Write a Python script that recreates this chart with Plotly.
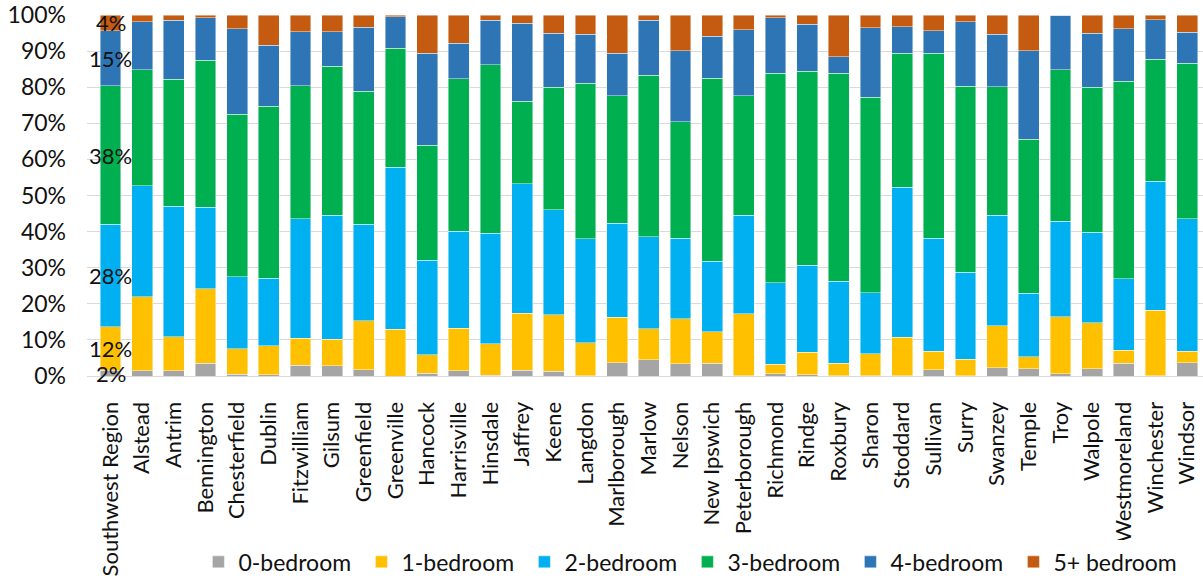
import plotly.graph_objects as go

categories = ["Southwest Region", "Alstead", "Antrim", "Bennington", "Chesterfield", "Dublin",
              "Fitzwilliam", "Gilsum", "Greenfield", "Greenville", "Hancock", "Harrisville",
              "Hinsdale", "Jaffrey", "Keene", "Langdon", "Marlborough", "Marlow", "Nelson",
              "New Ipswich", "Peterborough", "Richmond", "Rindge", "Roxbury", "Sharon",
              "Stoddard", "Sullivan", "Surry", "Swanzey", "Temple", "Troy", "Walpole",
              "Westmoreland", "Winchester", "Windsor"]

br0 = [1.6, 1.4, 1.4, 3.5, 0.5, 0.3, 3.0, 2.9, 1.7, 0.0, 0.7, 1.5, 0.2, 1.6, 1.3, 0.1, 3.7, 4.5,
       3.4, 3.6, 0.1, 0.6, 0.4, 0.1, 0.1, 0.1, 1.8, 0.1, 2.3, 2.0, 0.6, 2.0, 3.5, 0.1, 3.7]
br1 = [12.0, 20.5, 9.5, 20.7, 7.1, 8.1, 7.4, 7.3, 13.6, 12.9, 5.2, 11.7, 8.7, 15.8, 15.7, 9.1, 12.6, 8.6,
       12.5, 8.6, 17.1, 2.6, 6.2, 3.5, 6.0, 10.7, 5.0, 4.6, 11.6, 3.4, 15.8, 12.8, 3.7, 18.1, 3.2]
br2 = [28.4, 30.8, 36.1, 22.5, 19.9, 18.7, 33.1, 34.3, 26.7, 44.9, 26.1, 26.9, 30.6, 35.8, 29.1, 28.8, 26.0, 25.5,
       22.3, 19.6, 27.3, 22.7, 24.1, 22.6, 17.0, 41.5, 31.4, 24.0, 30.6, 17.5, 26.4, 25.0, 19.8, 35.7, 36.7]
br3 = [38.4, 32.1, 35.2, 40.8, 45.0, 47.6, 36.9, 41.3, 36.9, 33.0, 31.9, 42.3, 46.7, 22.9, 33.9, 43.1, 35.3, 44.7,
       32.3, 50.7, 33.1, 57.9, 53.7, 57.6, 54.1, 37.1, 51.2, 51.5, 35.6, 42.7, 42.1, 40.2, 54.6, 33.8, 43.0]
br4 = [15.3, 13.4, 16.4, 11.7, 23.7, 16.9, 14.9, 9.6, 17.7, 8.7, 25.5, 9.8, 12.3, 21.6, 14.9, 13.5, 11.8, 15.2,
       19.6, 11.6, 18.3, 15.5, 13.1, 4.7, 19.3, 7.3, 6.3, 18.0, 14.5, 24.5, 15.1, 14.9, 14.6, 11.0, 8.6]
br5 = [4.3, 1.8, 1.4, 0.8, 3.8, 8.4, 4.7, 4.6, 3.4, 0.5, 10.6, 7.8, 1.5, 2.3, 5.1, 5.4, 10.6, 1.5,
       9.9, 5.9, 4.1, 0.7, 2.5, 11.5, 3.5, 3.3, 4.3, 1.8, 5.4, 9.9, 0.0, 5.1, 3.8, 1.3, 4.8]

series_names = ["0-bedroom", "1-bedroom", "2-bedroom", "3-bedroom", "4-bedroom", "5+ bedroom"]
series_values = [br0, br1, br2, br3, br4, br5]
colors = ["#A5A5A5", "#FFC000", "#00B0F0", "#00B050", "#2E75B6", "#C55A11"]

y_tick_vals = list(range(0, 101, 10))
y_tick_text = [f"{v}%" for v in y_tick_vals]

FONT = "Lato"
FS = 23

fig = go.Figure()
for name, vals, col in zip(series_names, series_values, colors):
    fig.add_trace(go.Bar(
        x=categories, y=vals, name=name,
        marker=dict(color=col, line=dict(color="rgba(255,255,255,0.55)", width=0.8)),
        hoverinfo="x+y+name",
    ))

# data labels for the first category (Southwest Region)
cum = 0.0
for vals in series_values:
    v = vals[0]
    fig.add_annotation(x=categories[0], y=cum + v / 2, text=f"{round(v)}%",
                       showarrow=False, font=dict(family=FONT, size=22, color="#111111"),
                       xanchor="center", yanchor="middle")
    cum += v

fig.update_layout(
    barmode="stack",
    bargap=0.34,
    width=1203, height=578,
    margin=dict(l=87, r=0, t=15, b=202, autoexpand=False),
    paper_bgcolor="white", plot_bgcolor="white",
    font=dict(family=FONT, size=FS, color="#111111"),
    showlegend=True,
    legend=dict(orientation="h", x=0.538, xanchor="center", y=-0.515, yanchor="middle",
                font=dict(family=FONT, size=FS, color="#111111"),
                entrywidth=118, entrywidthmode="pixels", itemwidth=30,
                traceorder="normal"),
)
fig.update_yaxes(range=[0, 100], tickmode="array", tickvals=y_tick_vals, ticktext=y_tick_text,
                 showgrid=True, gridcolor="#D9D9D9", gridwidth=1, zeroline=False,
                 ticks="", ticklabelstandoff=20, automargin=False,
                 tickfont=dict(family=FONT, size=FS, color="#111111"))
fig.update_xaxes(tickangle=-90, showline=True, linecolor="#D9D9D9", linewidth=1,
                 ticks="", ticklabelstandoff=16, automargin=False,
                 tickfont=dict(family=FONT, size=22, color="#111111"))

fig.write_html("out.html", config={"displayModeBar": False},
               post_script="document.body.style.margin='0';document.body.style.overflow='hidden';")
